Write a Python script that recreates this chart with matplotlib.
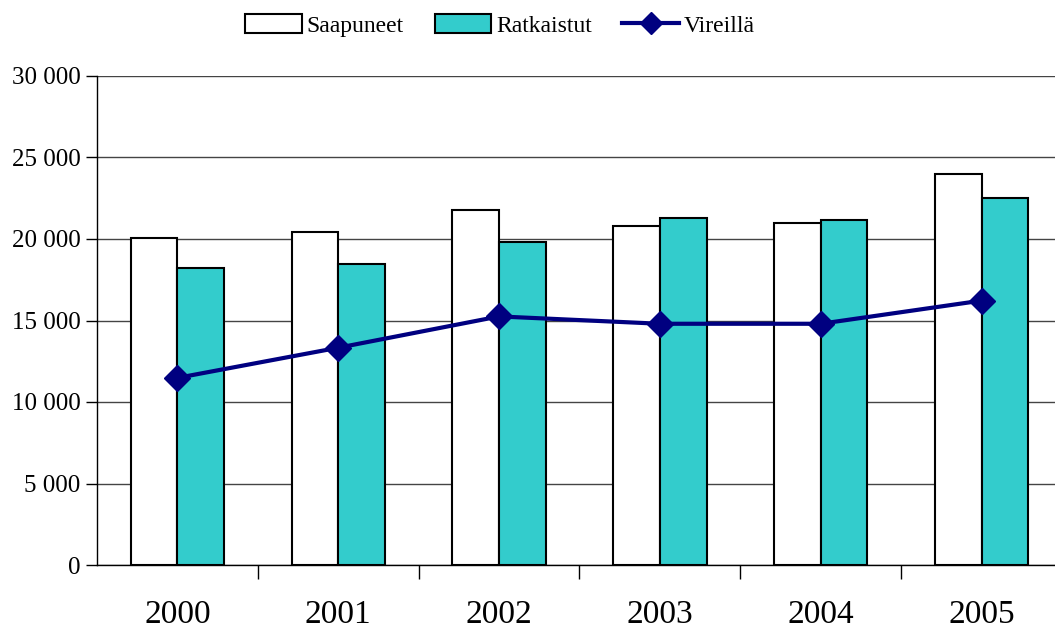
import numpy as np
import matplotlib
matplotlib.use("Agg")
import matplotlib.pyplot as plt
from matplotlib.ticker import FuncFormatter

# data
years = ["2000", "2001", "2002", "2003", "2004", "2005"]
saapuneet = [20050, 20420, 21780, 20790, 20980, 23980]
ratkaistut = [18200, 18450, 19800, 21280, 21150, 22500]
vireilla = [11480, 13330, 15250, 14800, 14800, 16220]

plt.rcParams['font.family'] = ['Liberation Serif', 'DejaVu Serif']

fig = plt.figure(figsize=(10.55, 6.30), dpi=100)
ax = fig.add_axes([97 / 1055, 65 / 630, 965 / 1055, 489 / 630])

x = np.arange(len(years))
w = 0.29
b1 = ax.bar(x - w / 2, saapuneet, w, color="white", edgecolor="black", linewidth=1.5,
            label="Saapuneet", zorder=2)
b2 = ax.bar(x + w / 2, ratkaistut, w, color="#33CCCC", edgecolor="black", linewidth=1.5,
            label="Ratkaistut", zorder=2)
l1, = ax.plot(x, vireilla, color="#000080", linewidth=3, marker="D", markersize=13,
              label="Vireillä", zorder=3)

ax.set_xlim(-0.5, len(years) - 0.5)
ax.set_ylim(0, 30000)
ax.set_yticks(range(0, 30001, 5000))
ax.yaxis.set_major_formatter(FuncFormatter(lambda v, p: f"{int(v):,}".replace(",", " ")))
ax.grid(axis="y", color="#444444", linewidth=1, zorder=0)
ax.set_axisbelow(True)

ax.set_xticks(x)
ax.set_xticklabels(years, fontsize=24)
ax.set_xticks(np.arange(0.5, len(years) - 0.5, 1), minor=True)
ax.tick_params(axis="x", which="major", length=0, pad=25)
ax.tick_params(axis="x", which="minor", length=10, width=1, direction="out")
ax.tick_params(axis="y", labelsize=18, length=8, width=1, direction="out", pad=4)

for s in ["top", "right"]:
    ax.spines[s].set_visible(False)
ax.spines["left"].set_linewidth(1)
ax.spines["bottom"].set_linewidth(1)

fig.legend([b1, b2, l1], ["Saapuneet", "Ratkaistut", "Vireillä"],
           loc="upper center", bbox_to_anchor=(0.474, 1.012), ncol=3, frameon=False,
           fontsize=17, handlelength=2.4, handleheight=0.9, handletextpad=0.2,
           columnspacing=1.3, markerscale=0.85)

fig.savefig("out.png", dpi=100)
